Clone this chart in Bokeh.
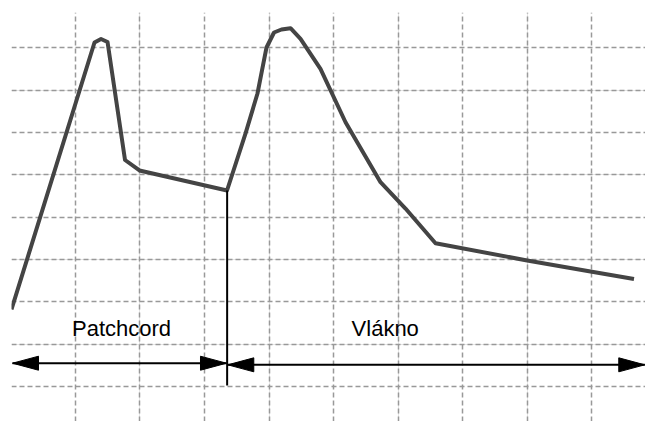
from bokeh.plotting import figure
from bokeh.models import Range1d, Grid, FixedTicker, ColumnDataSource
from bokeh.core.properties import value
from bokeh.embed import file_html
from bokeh.resources import INLINE

# ---- data (grid units) ----
curve_x = [0.009, 1.295, 1.396, 1.497, 1.768, 1.992, 3.348, 3.634, 3.820, 3.960,
           4.076, 4.192, 4.332, 4.487, 4.796, 5.184, 5.726, 6.113, 6.578, 7.998,
           8.979, 9.653]
curve_y = [2.816, 9.128, 9.210, 9.139, 6.350, 6.102, 5.629, 6.976, 7.922, 9.010,
           9.364, 9.435, 9.466, 9.215, 8.506, 7.243, 5.825, 5.203, 4.383, 3.974,
           3.714, 3.537]

grid_x = [1, 2, 3, 4, 5, 6, 7, 8, 9]
grid_y = [1, 2, 3, 4, 5, 6, 7, 8, 9]

divider_x = 3.35
divider_y = [5.63, 1.02]

arrow_names = ["Patchcord", "Vlákno"]
arrow_start = [0.025, 3.360]
arrow_end = [3.340, 9.820]
arrow_y = [1.546, 1.508]

label_x = [1.714, 5.799]
label_y = [2.36, 2.36]

# ---- layout ----
W, H = 645, 421
BL, BT = 11, 12
xr = (0.0093, 0.0093 + (W - BL) / 64.55)
yr_top = 9.837
yr = (yr_top - (H - BT) / 42.3, yr_top)
px_x = (W - BL) / (xr[1] - xr[0])
px_y = (H - BT) / (yr[1] - yr[0])

p = figure(width=W, height=H, output_backend="svg", toolbar_location=None,
           title=None, x_axis_location=None, y_axis_location=None,
           x_range=Range1d(*xr), y_range=Range1d(*yr),
           min_border_left=BL, min_border_top=BT, min_border_right=0,
           min_border_bottom=0)
p.outline_line_color = None
p.background_fill_color = "white"
p.border_fill_color = "white"

for dim, ticks in ((0, grid_x), (1, grid_y)):
    g = Grid(dimension=dim, ticker=FixedTicker(ticks=ticks),
             grid_line_color="#999999", grid_line_dash="5 3",
             grid_line_width=1.5)
    p.add_layout(g)

p.line(curve_x, curve_y, line_color="#444444", line_width=4,
       line_join="round")

p.segment(x0=[divider_x], y0=[divider_y[0]], x1=[divider_x], y1=[divider_y[1]],
          line_color="black", line_width=2)

# arrow shafts
p.segment(x0=arrow_start, y0=arrow_y, x1=arrow_end, y1=arrow_y,
          line_color="black", line_width=2)

# arrow heads (filled triangles)
head_len = 26 / px_x
head_half = 7 / px_y
hx, hy = [], []
for xs, xe, y in zip(arrow_start, arrow_end, arrow_y):
    hx.append([xs, xs + head_len, xs + head_len])
    hy.append([y, y + head_half, y - head_half])
    hx.append([xe, xe - head_len, xe - head_len])
    hy.append([y, y + head_half, y - head_half])
p.patches(hx, hy, fill_color="black", line_color="black", line_width=1)

src = ColumnDataSource(dict(x=label_x, y=label_y, t=arrow_names))
p.text(x="x", y="y", text="t", source=src, text_font=value("Liberation Sans"),
       text_font_size="22px", text_align="center",
       text_baseline="alphabetic", text_color="black")

open("out.html", "w").write(file_html(p, INLINE))
